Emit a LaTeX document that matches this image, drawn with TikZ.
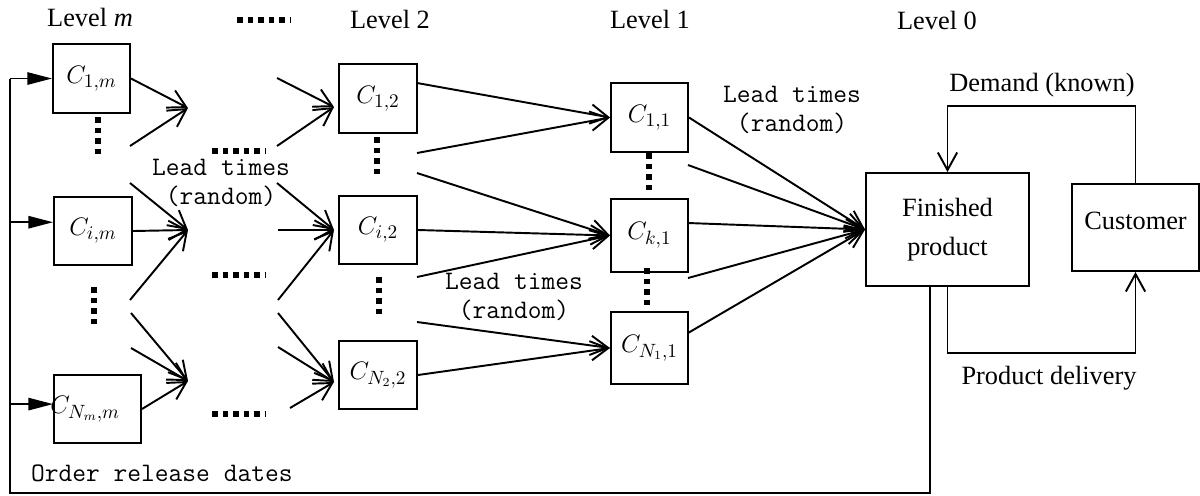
\documentclass[tikz,border=0pt]{standalone}
\usepackage{fontspec}
\setmainfont{Liberation Serif}
\usetikzlibrary{arrows.meta}

\begin{document}
\begin{tikzpicture}[x=0.02cm, y=-0.02cm,
	every node/.style={font=\fontsize{15}{18}\selectfont},
	box/.style={draw, line width=1.1pt, minimum width=1.56cm, minimum height=1.38cm, inner sep=0pt},
	arr/.style={line width=1.1pt, -{Straight Barb[length=10pt,width=11pt]}},
	feed/.style={line width=1pt, -{Triangle[length=14pt,width=7pt]}},
	dots/.style={line width=3.2pt, dash pattern=on 3.2pt off 2.8pt},
	lead/.style={font=\fontsize{15.2}{17}\selectfont\ttfamily, align=center}]

	\useasboundingbox (0,0) rectangle (1200,495);

	% level headers
	\node (hm) at (90,17) {Level \textit{m}};
	\node (h2) at (390,19) {Level 2};
	\node (h1) at (650,19) {Level 1};
	\node (h0) at (937,20) {Level 0};
	\draw[dots] (237,20) -- (290,20);

	% level m
	\node[box, minimum width=1.54cm] (c1m) at (91.5,78.5) {$C_{1,m}$};
	\node[box, minimum height=1.36cm] (cim) at (93,231) {$C_{i,m}$};
	\node[box, minimum width=1.74cm, minimum height=1.36cm,
		label={[xshift=-7pt]center:$C_{N_m,m}$}] (cnm) at (97.5,409) {};

	% level 2
	\node[box] (c12) at (378,98.5) {$C_{1,2}$};
	\node[box, minimum height=1.36cm] (ci2) at (378,230) {$C_{i,2}$};
	\node[box, minimum height=1.36cm] (cn22) at (378,375) {$C_{N_2,2}$};

	% level 1
	\node[box, minimum width=1.54cm] (c11) at (649.5,117.5) {$C_{1,1}$};
	\node[box, minimum width=1.54cm, minimum height=1.46cm] (ck1) at (649.5,235.5) {$C_{k,1}$};
	\node[box, minimum width=1.54cm, minimum height=1.44cm] (cn11) at (649.5,348) {$C_{N_1,1}$};

	% level 0
	\node[box, minimum width=3.26cm, minimum height=2.26cm, align=center,
		font=\fontsize{15}{22}\selectfont] (fp) at (947.5,229.5) {Finished\\product};
	\node[box, minimum width=2.54cm, minimum height=1.74cm, text depth=8pt] (cu) at (1135.5,227.5) {Customer};

	% where the arrows meet
	\coordinate (ma) at (188,108);
	\coordinate (mb) at (188,230);
	\coordinate (mc) at (188,381);
	\coordinate (ta) at (334,107);
	\coordinate (tb) at (334,230);
	\coordinate (tc) at (334,382);

	% loose ends
	\foreach \n/\x/\y in {pa1/130/146, pa2/130/183, pa3/130/300, pa4/131/313, pa5/131/348,
		pb1/277/78, pb2/277/146, pb3/277/183, pb4/278/230, pb5/278/300,
		pb6/278/313, pb7/278/347, pb8/290/408,
		pc1/417/83, pc2/417/153, pc3/417/173, pc4/417/277, pc5/417/322,
		pd2/688/165, pd3/688/223, pd4/688/278, pd5/688/333}
		\coordinate (\n) at (\x,\y);

	\foreach \s/\t in {c1m.east/ma, pa1/ma, pa2/mb, cim.east/mb, pa3/mb,
		pa4/mc, pa5/mc, cnm.east/mc,
		pb1/ta, pb2/ta, pb3/tb, pb4/tb, pb5/tb, pb6/tc, pb7/tc, pb8/tc,
		pc1/c11.west, pc2/c11.west, pc3/ck1.west, ci2.east/ck1.west, pc4/ck1.west,
		pc5/cn11.west, cn22.east/cn11.west,
		c11.east/fp.west, pd2/fp.west, pd3/fp.west, pd4/fp.west, pd5/fp.west}
		\draw[arr] (\s) -- (\t);

	% dots
	\draw[dots] (212,151) -- (265,151);
	\draw[dots] (212,275) -- (265,275);
	\draw[dots] (212,414) -- (265,414);
	\draw[dots] (98,117) -- (98,157);
	\draw[dots] (94,287) -- (94,327);
	\draw[dots] (377,137) -- (377,177);
	\draw[dots] (379,277) -- (379,318);
	\draw[dots] (649,153) -- (649,195);
	\draw[dots] (647,268) -- (647,310);

	% lead times
	\node[lead] (ld1) at (221,183) {Lead times\\(random)};
	\node[lead] (ld2) at (514,297) {Lead times\\(random)};
	\node[lead] (ld3) at (792,110) {Lead times\\(random)};

	% demand and delivery
	\draw[arr] (cu.north) -- ++(0,-77) -| (fp.north);
	\node (dem) at (1042,85) {Demand (known)};
	\draw[arr] (fp.south) -- ++(0,66) -| (cu.south);
	\node (del) at (1049,378) {Product delivery};

	% order release
	\coordinate (rb) at (930,493);
	\coordinate (lb) at (10,493);
	\draw[line width=1pt] (fp.south -| rb) -- (rb) -- (lb) -- (lb |- c1m.west);
	\draw[feed] (lb |- c1m.west) -- (c1m.west);
	\draw[feed] ([yshift=5pt]lb |- cim.west) -- ([yshift=5pt]cim.west);
	\draw[feed] ([yshift=2.8pt]lb |- cnm.west) -- ([yshift=2.8pt]cnm.west);
	\node[lead, anchor=west] (ord) at (25,473) {Order release dates};
\end{tikzpicture}
\end{document}
